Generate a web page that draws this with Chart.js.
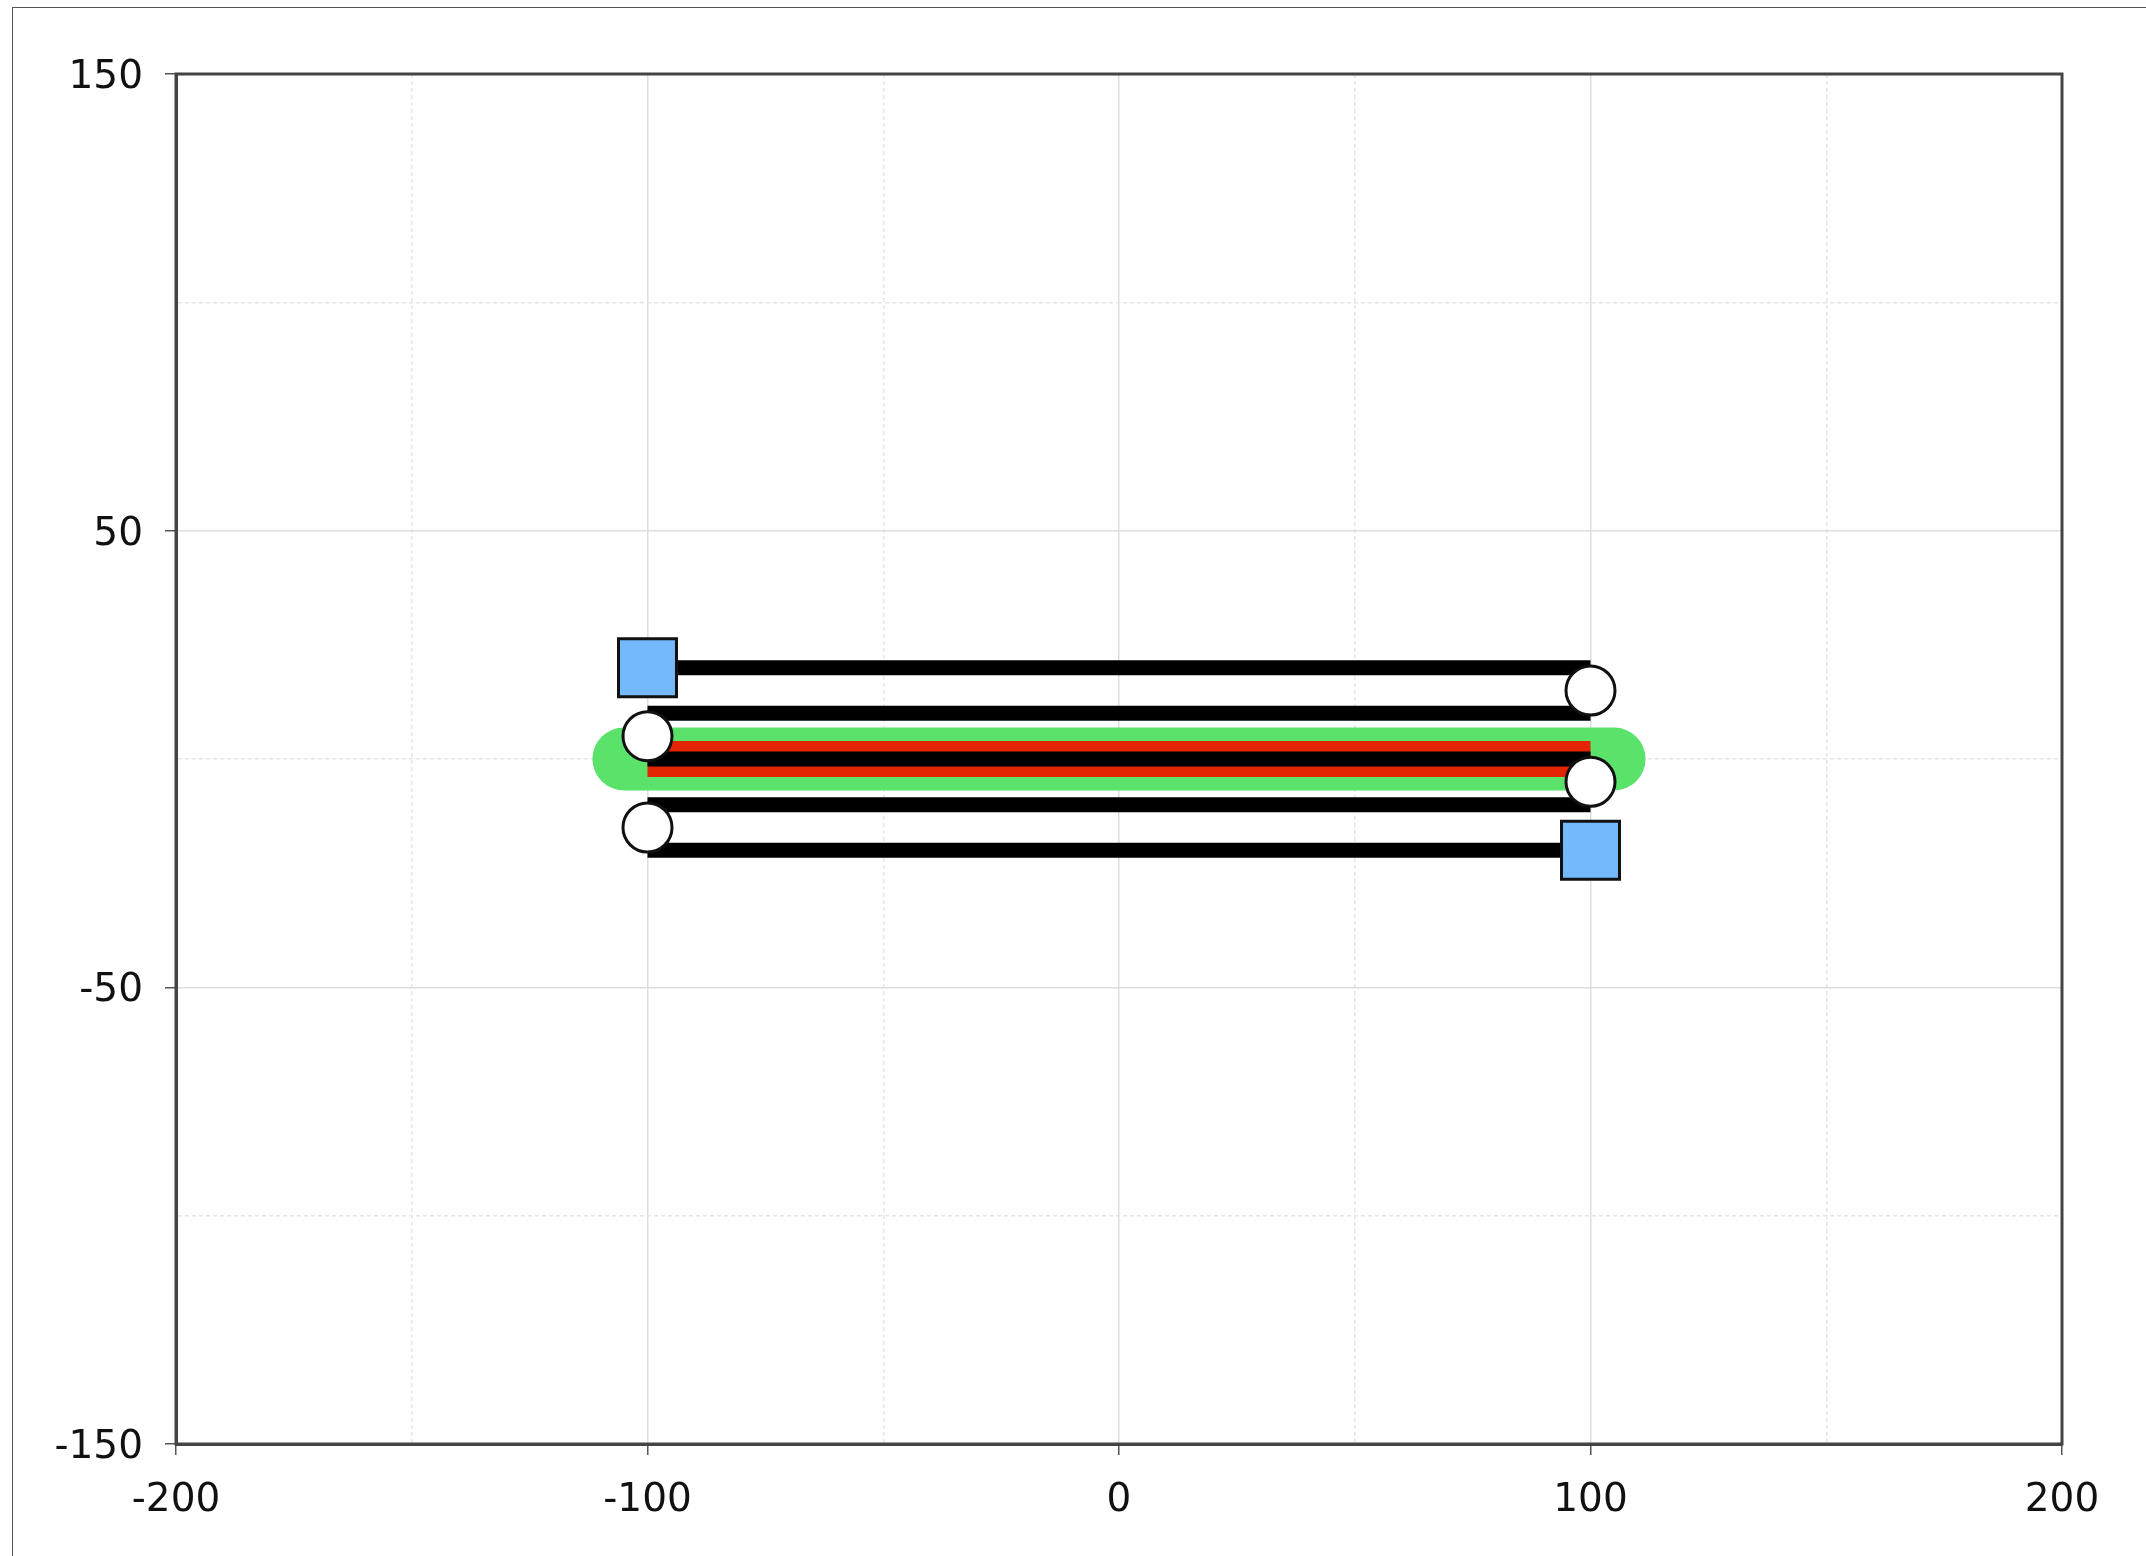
<!DOCTYPE html>
<html>
<head>
<meta charset="utf-8">
<script src="https://cdn.jsdelivr.net/npm/chart.js@4/dist/chart.umd.min.js"></script>
<style>
    html, body { margin: 0; padding: 0; overflow: hidden; background: #fff; }
    #wrap { position: relative; width: 2146px; height: 1556px; }
    #frame {
        position: absolute; left: 12px; top: 7px; width: 2300px; height: 1700px;
        border: 1px solid #555; pointer-events: none;
    }
    canvas { position: absolute; left: 0; top: 0; }
</style>
</head>
<body>
<div id="wrap">
    <canvas id="chart" width="2146" height="1556"></canvas>
    <div id="frame"></div>
</div>
<script>
// --- Data ---
const lineX = [-100, 100];
const rowLevels = [20, 10, 0, -10, -20];
const bandX = [-105, 105];
const bandY = 0;
const squareX = [-100, 100];
const squareY = [20, -20];
const circleX = [100, -100, 100, -100];
const circleY = [15, 5, -5, -15];
const xTickLabels = [-200, -100, 0, 100, 200];
const yTickLabels = [150, 50, -50, -150];

const segment = (xs, y) => xs.map(x => ({ x: x, y: y }));

const datasets = [];

// points on top
datasets.push({
    data: squareX.map((x, i) => ({ x: x, y: squareY[i] })),
    showLine: false,
    pointStyle: "rect",
    pointRadius: 41,
    backgroundColor: "#74b8fd",
    borderColor: "#111",
    borderWidth: 3,
    order: 0
});
datasets.push({
    data: circleX.map((x, i) => ({ x: x, y: circleY[i] })),
    showLine: false,
    pointStyle: "circle",
    pointRadius: 24.5,
    backgroundColor: "#fff",
    borderColor: "#111",
    borderWidth: 3,
    order: 0
});

// black rows
rowLevels.forEach(level => {
    datasets.push({
        data: segment(lineX, level),
        showLine: true,
        borderColor: "#000",
        borderWidth: 15,
        borderCapStyle: "butt",
        pointRadius: 0,
        order: 1
    });
});

// red under the middle row
datasets.push({
    data: segment(lineX, bandY),
    showLine: true,
    borderColor: "#e22400",
    borderWidth: 36,
    borderCapStyle: "butt",
    pointRadius: 0,
    order: 2
});

// green rounded band
datasets.push({
    data: segment(bandX, bandY),
    showLine: true,
    borderColor: "#5ae26b",
    borderWidth: 63,
    borderCapStyle: "round",
    pointRadius: 0,
    order: 3
});

const isXLabel = v => xTickLabels.includes(v);
const isYLabel = v => yTickLabels.includes(v);

const framePlugin = {
    id: "frame",
    afterDatasetsDraw(chart) {
        const a = chart.chartArea;
        const ctx = chart.ctx;
        ctx.save();
        ctx.strokeStyle = "#444";
        ctx.lineWidth = 3;
        ctx.strokeRect(a.left, a.top, a.right - a.left, a.bottom - a.top);
        ctx.restore();
    }
};

new Chart(document.getElementById("chart"), {
    type: "scatter",
    data: { datasets: datasets },
    options: {
        responsive: false,
        animation: false,
        events: [],
        layout: { padding: { top: 74, right: 84, left: 0, bottom: 0 } },
        plugins: {
            legend: { display: false },
            tooltip: { enabled: false }
        },
        scales: {
            x: {
                type: "linear",
                min: -200,
                max: 200,
                afterFit: scale => { scale.height = 112; },
                ticks: {
                    stepSize: 50,
                    autoSkip: false,
                    maxRotation: 0,
                    padding: 22,
                    color: "#111",
                    font: { family: "DejaVu Sans", size: 39 },
                    callback: v => isXLabel(v) ? String(v) : ""
                },
                grid: {
                    color: c => c.tick && isXLabel(c.tick.value) ? "#dedede" : "#e6e6e6",
                    lineWidth: 1.5,
                    tickLength: 11,
                    tickColor: c => c.tick && isXLabel(c.tick.value) ? "#555" : "rgba(0,0,0,0)",
                    tickWidth: 1.5
                },
                border: {
                    display: true,
                    color: "#444",
                    width: 3,
                    dash: c => c.tick && !isXLabel(c.tick.value) ? [4, 3] : []
                }
            },
            y: {
                type: "linear",
                min: -150,
                max: 150,
                afterFit: scale => { scale.width = 176; },
                ticks: {
                    stepSize: 50,
                    autoSkip: false,
                    padding: 22,
                    labelOffset: 4,
                    color: "#111",
                    font: { family: "DejaVu Sans", size: 39 },
                    callback: v => isYLabel(v) ? String(v) : ""
                },
                grid: {
                    color: c => c.tick && isYLabel(c.tick.value) ? "#dedede" : "#e6e6e6",
                    lineWidth: 1.5,
                    tickLength: 11,
                    tickColor: c => c.tick && isYLabel(c.tick.value) ? "#555" : "rgba(0,0,0,0)",
                    tickWidth: 1.5
                },
                border: {
                    display: true,
                    color: "#444",
                    width: 3,
                    dash: c => c.tick && !isYLabel(c.tick.value) ? [4, 3] : []
                }
            }
        }
    },
    plugins: [framePlugin]
});
</script>
</body>
</html>
